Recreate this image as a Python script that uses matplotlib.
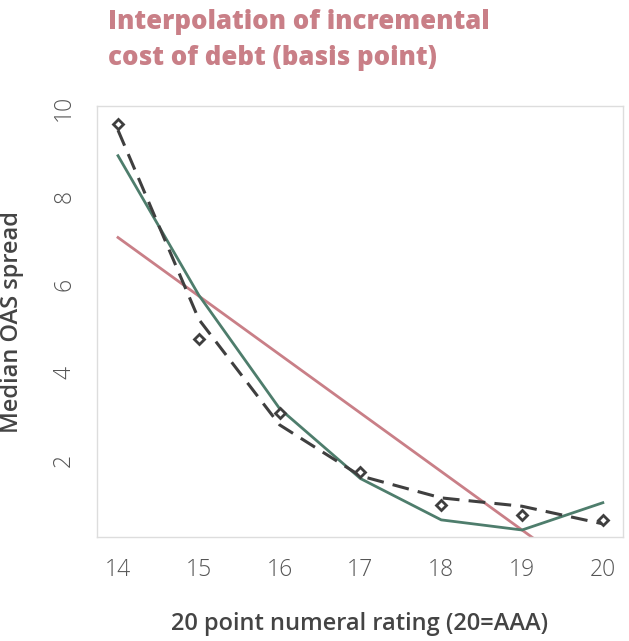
import matplotlib.pyplot as plt

# Data
ratings = [14, 15, 16, 17, 18, 19, 20]
observed = [9.63, 4.75, 3.07, 1.73, 0.98, 0.75, 0.64]      # diamond markers
fitted_dashed = [9.5, 5.2, 2.8, 1.64, 1.14, 0.95, 0.55]    # dashed curve
interp_green = [8.92, 5.75, 3.17, 1.58, 0.64, 0.41, 1.03]  # green line
linear_pink = [7.06, 5.73, 4.40, 3.07, 1.74, 0.41, -0.92]  # pink straight line

GREEN = '#4e7d6c'
PINK = '#c97f87'
DARK = '#3f3f3f'
GREY_TXT = '#555555'
FONT = 'Open Sans'

fig = plt.figure(figsize=(6.29, 6.41), dpi=100)
ax = fig.add_axes([0.1542, 0.1622, 0.8363, 0.6724])

ax.plot(ratings, linear_pink, color=PINK, lw=2.0, zorder=2)
ax.plot(ratings, interp_green, color=GREEN, lw=2.0, zorder=3)
ax.plot(ratings, fitted_dashed, color=DARK, lw=2.2, dashes=(5.5, 3), zorder=4)
ax.plot(ratings, observed, ls='none', marker='D', ms=5, mfc='white',
        mec=DARK, mew=2.0, zorder=5)

ax.set_xlim(13.74, 20.25)
ax.set_ylim(0.25, 10.05)
ax.set_xticks(ratings)
ax.set_yticks([2, 4, 6, 8, 10])

for s in ax.spines.values():
    s.set_color('#dddddd')
    s.set_linewidth(1.0)
ax.tick_params(length=0, labelsize=16.5, labelcolor=GREY_TXT, pad=15)
for lab in ax.get_xticklabels() + ax.get_yticklabels():
    lab.set_family(FONT)
    lab.set_fontweight('light')
for lab in ax.get_yticklabels():
    lab.set_rotation(90)
    lab.set_va('center')

ax.set_xlabel('20 point numeral rating (20=AAA)', fontsize=17, family=FONT,
              fontweight='semibold', color='#444444', labelpad=22)
ax.set_ylabel('Median OAS spread', fontsize=17, family=FONT,
              fontweight='semibold', color='#444444', labelpad=20)

fig.text(108 / 629, 1 - 9 / 641, 'Interpolation of incremental\ncost of debt (basis point)',
         ha='left', va='top', fontsize=18.5, family=FONT, fontweight='extra bold',
         color=PINK, linespacing=1.5)

fig.savefig('out.png', dpi=100)
